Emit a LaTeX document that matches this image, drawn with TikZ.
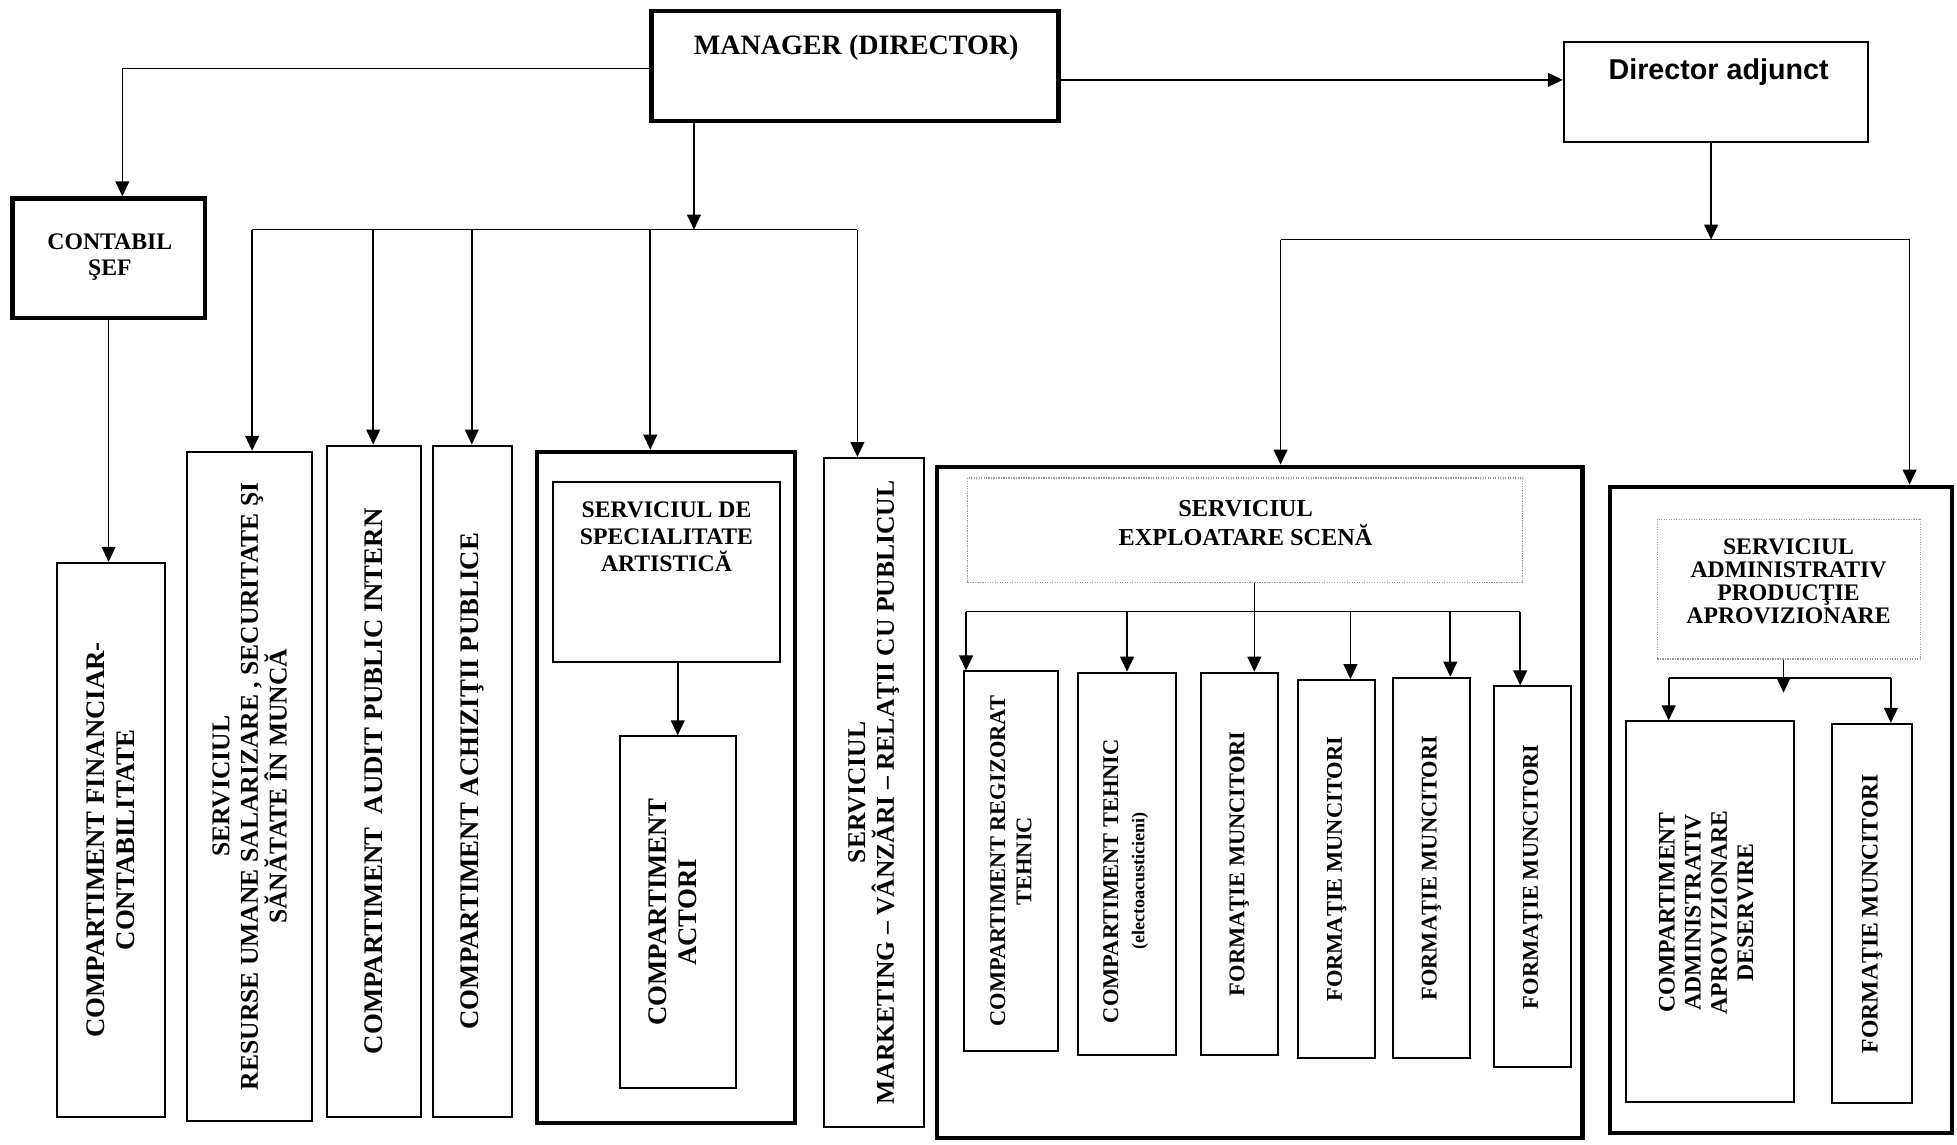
\documentclass[tikz,border=0pt]{standalone}
\usepackage{fontspec}
\setmainfont{Liberation Serif}
\newfontfamily\arialfont{Liberation Sans}
\usetikzlibrary{positioning,arrows.meta}
\def\fsz#1#2{\fontsize{#1}{#2}\selectfont\bfseries}

\begin{document}
\begin{tikzpicture}[x=1pt, y=-1pt,
                    box/.style = {draw, line width=1.6pt, inner sep=0pt},
                    bigbox/.style = {box, line width=3.4pt},
                    dotbox/.style = {draw=black!40, densely dotted, line width=1pt, inner sep=0pt},
                    txt/.style = {align=center, inner sep=0pt, font=\fsz{19}{21.5}},
                    vtxt/.style = {txt, rotate=90, font=\fsz{21.5}{24}},
                    ntxt/.style = {vtxt, font=\fsz{20.5}{23}},
                    stxt/.style = {vtxt, font=\fsz{18}{21}},
                    link/.style = {line width=1.3pt, -{Triangle[length=12pt,width=11pt]}},
                    bus/.style = {line width=1.3pt}]
\useasboundingbox (0,0) rectangle (1568,917);

% top level
\node[bigbox, minimum width=326pt, minimum height=88pt] (mgr) at (685,53) {};
\node[txt, font=\fsz{22.5}{25}] (mgrtxt) at (686,38) {MANAGER (DIRECTOR)};
\node[box, minimum width=244pt, minimum height=80pt] (adj) at (1375,74) {};
\node[txt, font=\arialfont\fsz{23}{25}] (adjtxt) at (1377,58) {Director adjunct};
\node[bigbox, minimum width=154pt, minimum height=96pt] (cont) at (87,207) {};
\node[txt] (conttxt) at (88,206) {CONTABIL\\ŞEF};

% manager's departments
\node[box, minimum width=86pt, minimum height=444pt] (fin) at (89,673) {};
\node[vtxt] (fintxt) at (fin.center) {COMPARTIMENT FINANCIAR-\\CONTABILITATE};
\node[box, minimum width=100pt, minimum height=536pt] (res) at (200,630) {};
\node[ntxt] (restxt) at (res.center) {SERVICIUL\\RESURSE UMANE SALARIZARE , SECURITATE ŞI\\SĂNĂTATE ÎN MUNCĂ};
\node[box, minimum width=75pt, minimum height=538pt] (aud) at (299.5,626) {};
\node[vtxt] (audtxt) at (aud.center) {COMPARTIMENT\ \ AUDIT PUBLIC INTERN};
\node[box, minimum width=63pt, minimum height=538pt] (ach) at (378.5,626) {};
\node[vtxt] (achtxt) at (ach.center) {COMPARTIMENT ACHIZIŢII PUBLICE};
\node[bigbox, minimum width=207pt, minimum height=538pt] (art) at (533.5,631) {};
\node[box, minimum width=182pt, minimum height=144pt] (artsrv) at (534,458.5) {};
\node[txt] (artsrvtxt) at (534,430) {SERVICIUL DE\\SPECIALITATE\\ARTISTICĂ};
\node[box, minimum width=93pt, minimum height=282pt] (act) at (543,731) {};
\node[vtxt] (acttxt) at (539,731) {COMPARTIMENT\\ACTORI};
\node[box, minimum width=80pt, minimum height=536pt] (mkt) at (700,635) {};
\node[ntxt] (mkttxt) at (mkt.center) {SERVICIUL\\MARKETING – VÂNZĂRI – RELAŢII CU PUBLICUL};

% deputy's departments
\node[bigbox, minimum width=517pt, minimum height=538pt] (scn) at (1009.5,643) {};
\node[dotbox, minimum width=445pt, minimum height=84pt] (scnsrv) at (997.5,425) {};
\node[txt, font=\fsz{19.5}{23}] (scnsrvtxt) at (998,419) {SERVICIUL\\EXPLOATARE SCENĂ};
\node[box, minimum width=76pt, minimum height=304pt] (r1) at (810,690) {};
\node[stxt] (r1txt) at (r1.center) {COMPARTIMENT REGIZORAT\\TEHNIC};
\node[box, minimum width=78pt, minimum height=306pt] (r2) at (903,692) {};
\node[stxt] (r2txt) at (902,706) {COMPARTIMENT TEHNIC\\{\fontsize{14.5}{17}\selectfont(electoacusticieni)}};
\node[box, minimum width=62pt, minimum height=306pt] (r3) at (993,692) {};
\node[stxt] (r3txt) at (r3.center) {FORMAŢIE MUNCITORI};
\node[box, minimum width=62pt, minimum height=303pt] (r4) at (1071,696.5) {};
\node[stxt] (r4txt) at (r4.center) {FORMAŢIE MUNCITORI};
\node[box, minimum width=62pt, minimum height=305pt] (r5) at (1147,695.5) {};
\node[stxt] (r5txt) at (r5.center) {FORMAŢIE MUNCITORI};
\node[box, minimum width=62pt, minimum height=305pt] (r6) at (1228,702.5) {};
\node[stxt] (r6txt) at (r6.center) {FORMAŢIE MUNCITORI};

\node[bigbox, minimum width=274pt, minimum height=518pt] (adm) at (1427,649) {};
\node[dotbox, minimum width=211pt, minimum height=112pt] (admsrv) at (1433.5,472) {};
\node[txt, font=\fsz{19}{18.5}] (admsrvtxt) at (1433,466) {SERVICIUL\\ADMINISTRATIV\\PRODUCŢIE\\APROVIZIONARE};
\node[box, minimum width=134pt, minimum height=305pt] (a1) at (1370,730.5) {};
\node[vtxt, font=\fsz{19}{21}] (a1txt) at (1367,731) {COMPARTIMENT\\ADMINISTRATIV\\APROVIZIONARE\\DESERVIRE};
\node[box, minimum width=64pt, minimum height=304pt] (a2) at (1500,732) {};
\node[vtxt, font=\fsz{19}{21}] (a2txt) at (a2.center) {FORMAŢIE MUNCITORI};

% manager links
\draw[link] ([yshift=-2pt]mgr.west) -| ([xshift=11pt]cont.north);
\draw[link] (cont.south) -- (cont.south |- fin.north);
\draw[link] ([yshift=-11pt]mgr.east) -- ([yshift=-11pt]mgr.east -| adj.west);
\coordinate (mbus) at (556,184);
\coordinate (d1) at (202,184);
\coordinate (d2) at (299,184);
\coordinate (d3) at (378,184);
\coordinate (d4) at (521,184);
\coordinate (d5) at (687,184);
\draw[link] (mbus |- mgr.south) -- (mbus);
\draw[bus] (d1) -- (d5);
\draw[link] (d1) -- (d1 |- res.north);
\draw[link] (d2) -- (d2 |- aud.north);
\draw[link] (d3) -- (d3 |- ach.north);
\draw[link] (d4) -- (d4 |- art.north);
\draw[link] (d5) -- (d5 |- mkt.north);
\draw[link] (artsrv.south -| act.north) -- (act.north);

% deputy links
\coordinate (abus) at (1371,192);
\coordinate (e1) at (1026,192);
\coordinate (e2) at (1530,192);
\draw[link] (adj.south -| abus) -- (abus);
\draw[bus] (e1) -- (e2);
\draw[link] (e1) -- (e1 |- scn.north);
\draw[link] (e2) -- (e2 |- adm.north);

% stage service
\coordinate (s1) at (774,490);
\coordinate (s2) at (903,490);
\coordinate (s3) at (1005,490);
\coordinate (s4) at (1082,490);
\coordinate (s5) at (1162,490);
\coordinate (s6) at (1218,490);
\draw[bus] (s1) -- (s6);
\draw[link] (s3 |- scnsrv.south) -- (s3 |- r3.north);
\draw[link] (s1) -- (s1 |- r1.north);
\draw[link] (s2) -- (s2 |- r2.north);
\draw[link] (s4) -- (s4 |- r4.north);
\draw[link] (s5) -- (s5 |- r5.north);
\draw[link] (s6) -- (s6 |- r6.north);

% administrative service
\coordinate (t0) at (1429,555);
\coordinate (t1) at (1337,543);
\coordinate (t2) at (1515,543);
\draw[link] (t0 |- admsrv.south) -- (t0);
\draw[bus] (t1) -- (t2);
\draw[link] (t1) -- (t1 |- a1.north);
\draw[link] (t2) -- (t2 |- a2.north);
\end{tikzpicture}
\end{document}
